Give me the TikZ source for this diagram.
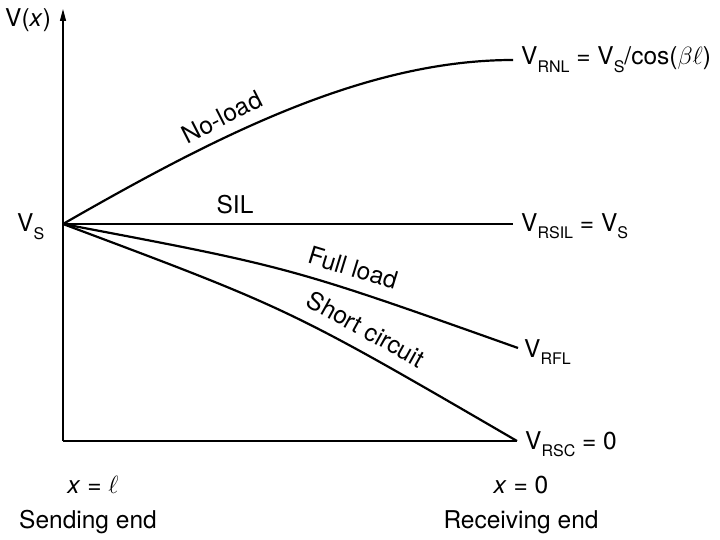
\documentclass[tikz,border=0pt]{standalone}
\usepackage{fontspec}
\setmainfont{TeX Gyre Heros}
\usetikzlibrary{arrows.meta}
\newcommand{\lsub}[1]{\raisebox{-0.32em}{\fontsize{16}{16}\selectfont #1}}
\begin{document}
\begin{tikzpicture}[x=1pt,y=-1pt,
  font=\fontsize{24.5}{28}\selectfont,
  curve/.style={line width=2.2pt},
  axis/.style={line width=1.3pt},
  lbl/.style={inner sep=0pt}]
\useasboundingbox (0,0) rectangle (720,540);
\coordinate (O) at (63,224);
\coordinate (top) at (63,9);
\coordinate (bot) at (63,441);
\coordinate (rsc) at (517,441);
\coordinate (rnl) at (513,60);
\coordinate (rsil) at (513,224);
\coordinate (rfl) at (518,348);
% axes
\draw[axis,-{Triangle[length=12pt,width=6pt]}] (bot) -- (top);
\draw[axis] (bot) -- (rsc);
% curves
\draw[curve] (O) .. controls (213,138) and (363,60) .. (rnl);
\draw[curve] (O) -- (rsil);
\draw[curve] (O) .. controls (290,267) .. (rfl);
\draw[curve] (O) .. controls (290,309) .. (rsc);
% labels
\node[lbl,anchor=base west] (vx) at (5,27) {V(\textit{x})};
\node[lbl,anchor=base west] (vs) at (17,232) {V\lsub{S}};
\node[lbl,rotate=27] (nl) at (222,117) {No-load};
\node[lbl] (sil) at (235,205) {SIL};
\node[lbl,rotate=-17] (fl) at (353,268) {Full load};
\node[lbl,rotate=-29] (sc) at (366,329) {Short circuit};
\node[lbl,anchor=base west] (lrnl) at (521,65) {V\lsub{RNL} = V\lsub{S}/cos($\beta\ell$)};
\node[lbl,anchor=base west] (lrsil) at (521,231) {V\lsub{RSIL} = V\lsub{S}};
\node[lbl,anchor=base west] (lrfl) at (524,357) {V\lsub{RFL}};
\node[lbl,anchor=base west] (lrsc) at (525,449) {V\lsub{RSC} = 0};
\node[lbl] (xl) at (93,485) {\textit{x} = $\ell$};
\node[lbl] (x0) at (521,485) {\textit{x} = 0};
\node[lbl] (se) at (88,522) {Sending end};
\node[lbl] (re) at (521,522) {Receiving end};
\end{tikzpicture}
\end{document}
